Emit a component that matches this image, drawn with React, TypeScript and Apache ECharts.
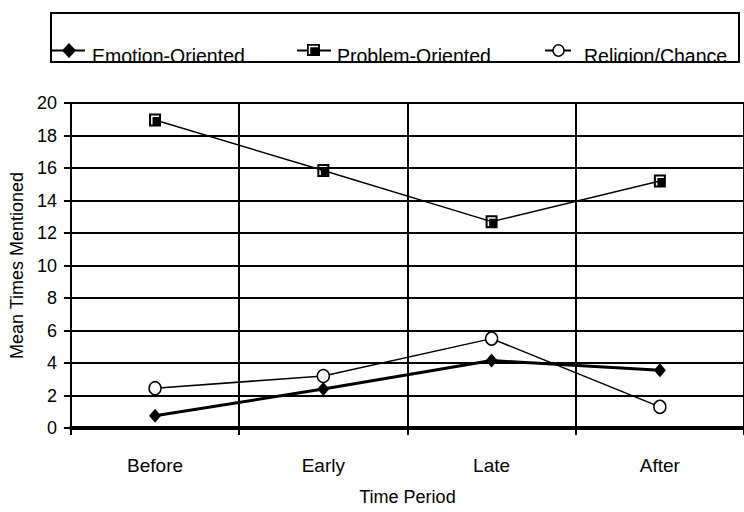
import React, { useEffect, useRef } from "react";
import * as echarts from "echarts";

const categories = ["Before", "Early", "Late", "After"];
const emotionOriented = [0.75, 2.4, 4.15, 3.55];
const problemOriented = [18.95, 15.85, 12.7, 15.2];
const religionChance = [2.45, 3.2, 5.5, 1.3];
const seriesNames = ["Emotion-Oriented", "Problem-Oriented", "Religion/Chance"];
const yTicks = { min: 0, max: 20, interval: 2 };

const FONT = "'Liberation Sans', Arial, sans-serif";
const SQUARE = "path://M0,0H12V13H0Z M2,2V11H3.5V3.5H10V2Z";

export default function App() {
  const ref = useRef<HTMLDivElement>(null);
  useEffect(() => {
    if (!ref.current) return;
    const chart = echarts.init(ref.current, undefined, { renderer: "svg" });
    const textBase = { fontFamily: FONT, fill: "#000", fontSize: 19.5, verticalAlign: "middle" };
    chart.setOption({
      animation: false,
      backgroundColor: "#fff",
      textStyle: { fontFamily: FONT, color: "#000" },
      grid: { left: 67, top: 103, right: -7, bottom: 84, containLabel: false },
      xAxis: {
        type: "category",
        data: categories,
        boundaryGap: true,
        name: "Time Period",
        nameLocation: "middle",
        nameGap: 60,
        nameTextStyle: { fontSize: 18, color: "#000", fontFamily: FONT },
        axisLine: { lineStyle: { color: "#000", width: 4 } },
        axisTick: { show: true, length: 7, lineStyle: { color: "#000", width: 2 } },
        axisLabel: { fontSize: 19, color: "#000", margin: 28, fontFamily: FONT },
        splitLine: { show: true, lineStyle: { color: "#000", width: 2 } },
      },
      yAxis: {
        type: "value",
        min: yTicks.min,
        max: yTicks.max,
        interval: yTicks.interval,
        name: "Mean Times Mentioned",
        nameLocation: "middle",
        nameGap: 40,
        nameTextStyle: { fontSize: 18, color: "#000", fontFamily: FONT },
        axisLine: { show: true, lineStyle: { color: "#000", width: 2 } },
        axisTick: { show: true, length: 7, lineStyle: { color: "#000", width: 2 } },
        axisLabel: { fontSize: 18, color: "#000", margin: 14, fontFamily: FONT },
        splitLine: { show: true, lineStyle: { color: "#000", width: 2 } },
      },
      series: [
        {
          name: seriesNames[0],
          type: "line",
          data: emotionOriented,
          symbol: "diamond",
          symbolSize: [12, 14],
          itemStyle: { color: "#000" },
          lineStyle: { color: "#000", width: 3 },
          z: 5,
        },
        {
          name: seriesNames[1],
          type: "line",
          data: problemOriented,
          symbol: SQUARE,
          symbolSize: [12, 13],
          itemStyle: { color: "#000" },
          lineStyle: { color: "#000", width: 1.5 },
          z: 4,
        },
        {
          name: seriesNames[2],
          type: "line",
          data: religionChance,
          symbol: "circle",
          symbolSize: [12, 13],
          showAllSymbol: true,
          itemStyle: { color: "#fff", borderColor: "#000", borderWidth: 1.5 },
          lineStyle: { color: "#000", width: 1.5 },
          z: 4,
        },
      ],
      graphic: [
        { type: "line", z: 10, shape: { x1: 51, y1: 50.5, x2: 85, y2: 50.5 }, style: { stroke: "#000", lineWidth: 2 } },
        { type: "polygon", z: 11, shape: { points: [[69, 43], [76, 50.5], [69, 58], [62, 50.5]] }, style: { fill: "#000" } },
        { type: "text", z: 10, x: 92, y: 56, style: { ...textBase, text: seriesNames[0] } },

        { type: "line", z: 10, shape: { x1: 297, y1: 50.5, x2: 331, y2: 50.5 }, style: { stroke: "#000", lineWidth: 2 } },
        { type: "rect", z: 11, shape: { x: 307, y: 44, width: 13, height: 12 }, style: { fill: "#000" } },
        { type: "polyline", z: 12, shape: { points: [[309.5, 54], [309.5, 46.5], [318, 46.5]] }, style: { stroke: "#fff", lineWidth: 1.5, fill: null } },
        { type: "text", z: 10, x: 337, y: 56, style: { ...textBase, text: seriesNames[1] } },

        { type: "line", z: 10, shape: { x1: 545, y1: 50.5, x2: 571, y2: 50.5 }, style: { stroke: "#000", lineWidth: 2 } },
        { type: "ellipse", z: 11, shape: { cx: 558.5, cy: 50.5, rx: 5.5, ry: 5.8 }, style: { fill: "#fff", stroke: "#000", lineWidth: 1.5 } },
        { type: "text", z: 10, x: 584, y: 56, style: { ...textBase, text: seriesNames[2] } },

        { type: "rect", z: 20, shape: { x: 40, y: 63, width: 710, height: 14 }, style: { fill: "#fff" } },
        { type: "rect", z: 21, shape: { x: 51, y: 13, width: 688, height: 49 }, style: { fill: "none", stroke: "#000", lineWidth: 2 } },
      ],
    });
    return () => chart.dispose();
  }, []);
  return (
    <div
      ref={ref}
      style={{ position: "absolute", left: 0, top: 0, width: 744, height: 512, background: "#fff" }}
    />
  );
}
